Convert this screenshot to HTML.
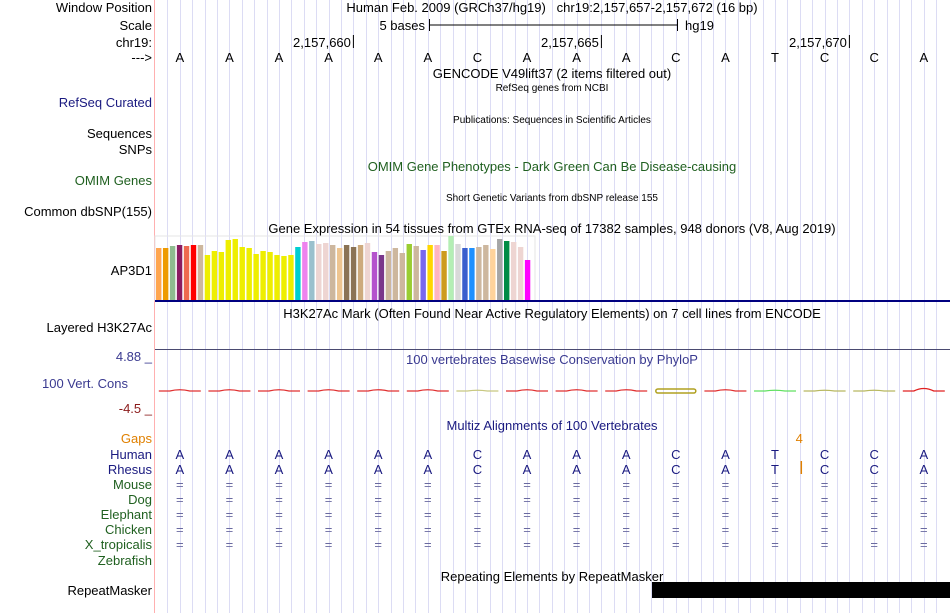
<!DOCTYPE html>
<html><head><meta charset="utf-8"><style>
body{margin:0;background:#fff;}
svg{display:block;font-family:"Liberation Sans",sans-serif;}
</style></head><body>
<svg id="s" width="950" height="613" viewBox="0 0 950 613">
<g id="grid"></g>
<line x1="154.5" y1="0" x2="154.5" y2="613" stroke="#ffb0b0"/>
<g font-size="13" text-anchor="end">
<text x="152" y="12" fill="#000">Window Position</text>
<text x="152" y="30" fill="#000">Scale</text>
<text x="152" y="47" fill="#000">chr19:</text>
<text x="152" y="62" fill="#000">---&gt;</text>
<text x="152" y="107" fill="#1a1a80">RefSeq Curated</text>
<text x="152" y="138" fill="#000">Sequences</text>
<text x="152" y="154" fill="#000">SNPs</text>
<text x="152" y="185" fill="#206020">OMIM Genes</text>
<text x="152" y="216" fill="#000">Common dbSNP(155)</text>
<text x="152" y="275" fill="#000">AP3D1</text>
<text x="152" y="332" fill="#000">Layered H3K27Ac</text>
<text x="152" y="361" fill="#3a3a90">4.88 _</text>
<text x="128" y="388" fill="#3a3a90">100 Vert. Cons</text>
<text x="152" y="413" fill="#8b1a1a">-4.5 _</text>
<text x="152" y="443" fill="#e08000">Gaps</text>
<text x="152" y="459" fill="#1a1a80">Human</text>
<text x="152" y="474" fill="#1a1a80">Rhesus</text>
<text x="152" y="489" fill="#206020">Mouse</text>
<text x="152" y="504" fill="#206020">Dog</text>
<text x="152" y="519" fill="#206020">Elephant</text>
<text x="152" y="534" fill="#206020">Chicken</text>
<text x="152" y="549" fill="#206020">X_tropicalis</text>
<text x="152" y="565" fill="#206020">Zebrafish</text>
<text x="152" y="595" fill="#000">RepeatMasker</text>
</g>
<g font-size="13" text-anchor="middle">
<text x="552" y="12" xml:space="preserve">Human Feb. 2009 (GRCh37/hg19)   chr19:2,157,657-2,157,672 (16 bp)</text>
<text x="552" y="78">GENCODE V49lift37 (2 items filtered out)</text>
<text x="552" y="91" font-size="10">RefSeq genes from NCBI</text>
<text x="552" y="123" font-size="10">Publications: Sequences in Scientific Articles</text>
<text x="552" y="171" fill="#206020">OMIM Gene Phenotypes - Dark Green Can Be Disease-causing</text>
<text x="552" y="201" font-size="10">Short Genetic Variants from dbSNP release 155</text>
<text x="552" y="233">Gene Expression in 54 tissues from GTEx RNA-seq of 17382 samples, 948 donors (V8, Aug 2019)</text>
<text x="552" y="318">H3K27Ac Mark (Often Found Near Active Regulatory Elements) on 7 cell lines from ENCODE</text>
<text x="552" y="364" fill="#3a3a90">100 vertebrates Basewise Conservation by PhyloP</text>
<text x="552" y="430" fill="#1a1a80">Multiz Alignments of 100 Vertebrates</text>
<text x="552" y="581">Repeating Elements by RepeatMasker</text>
</g>
<g>
<text x="425" y="30" font-size="13" text-anchor="end">5 bases</text>
<line x1="429" y1="25" x2="677" y2="25" stroke="#000"/>
<line x1="429.5" y1="19" x2="429.5" y2="31" stroke="#000"/>
<line x1="677.5" y1="19" x2="677.5" y2="31" stroke="#000"/>
<text x="685" y="30" font-size="13">hg19</text>
</g>
<g id="ruler" font-size="13" text-anchor="end"></g>
<g id="seq" font-size="13" text-anchor="middle"></g>
<rect x="155" y="236" width="380" height="65" fill="none" stroke="#e6e6e6"/>
<g id="gtex"></g>
<line x1="155" y1="301" x2="950" y2="301" stroke="#000080" stroke-width="2"/>
<line x1="155" y1="349.5" x2="950" y2="349.5" stroke="#4a4a70"/>
<g id="cons"></g>
<g id="multiz" font-size="13" text-anchor="middle"></g>
<rect x="652" y="582" width="298" height="16" fill="#000"/>
</svg>
<script>
const bases=["A","A","A","A","A","A","C","A","A","A","C","A","T","C","C","A"];
const rulerPos=[2157660,2157665,2157670];
const rulerIdx=[3,8,13];
const gtexValues=[52,52,54,55,54,55,55,45,49,48,60,61,53,52,46,49,48,45,44,45,53,58,59,56,57,55,52,55,53,55,57,48,45,49,52,47,56,54,50,55,55,49,64,56,52,52,53,55,51,61,59,58,53,40];
const gtexColors=["#FFA54F","#EE9A00","#8FBC8F","#8B1C62","#EE6A50","#FF0000","#CDB79E","#EEEE00","#EEEE00","#EEEE00","#EEEE00","#EEEE00","#EEEE00","#EEEE00","#EEEE00","#EEEE00","#EEEE00","#EEEE00","#EEEE00","#EEEE00","#00CED1","#EE82EE","#9AC0CD","#EED5D2","#EED5D2","#CDB79E","#EEC591","#8B7355","#8B7355","#CDAA7D","#EED5D2","#B452CD","#7A378B","#CDB79E","#CDB79E","#CDB79E","#9ACD32","#CDB79E","#7A67EE","#FFD700","#FFB6C1","#CD9B1D","#B4EEB4","#D9D9D9","#3A5FCD","#1E90FF","#CDB79E","#CDB79E","#FFD39B","#A6A6A6","#008B45","#EED5D2","#EED5D2","#FF00FF"];
const consValues=[0.3,0.3,0.3,0.3,0.3,0.3,0.1,0.3,0.3,0.3,-0.5,0.3,0.1,0.1,0.1,0.8];
const consColors=["#e03030","#e03030","#e03030","#e03030","#e03030","#e03030","#c8c880","#e03030","#e03030","#e03030","#b0a020","#e03030","#60e060","#b8b860","#b8b860","#e02020"];
const NS="http://www.w3.org/2000/svg";
const X0=155,BW=49.6;
const bx=i=>X0+BW*(i+0.5);
function mk(tag,attrs,parent,txt){const e=document.createElementNS(NS,tag);for(const k in attrs)e.setAttribute(k,attrs[k]);if(txt!==undefined)e.textContent=txt;parent.appendChild(e);return e;}
const grid=document.getElementById('grid');
for(let k=1;k<64;k++){const x=Math.round(X0+k*BW/4)+0.5;const l=mk('line',{x1:x,y1:0,x2:x,y2:613,stroke:'#dcdcf4'},grid);

}
const ruler=document.getElementById('ruler');
rulerPos.forEach((p,j)=>{const x=X0+BW*rulerIdx[j]+BW*0.99;const t=mk('text',{x:x-2,y:47},ruler,p.toLocaleString('en-US'));


const l=mk('line',{x1:x+0.5,y1:35,x2:x+0.5,y2:48,stroke:'#000'},ruler);

});
const seq=document.getElementById('seq');
bases.forEach((b,i)=>{const t=mk('text',{x:bx(i),y:62},seq,b);

});
const gtex=document.getElementById('gtex');
const gy=v=>300-v;
gtexValues.forEach((v,i)=>{const r=mk('rect',{x:156+i*6.96,y:gy(v),width:5.4,height:300-gy(v),fill:gtexColors[i]},gtex);

});
const cons=document.getElementById('cons');
const cy=v=>391-v*5;
consValues.forEach((v,i)=>{const x=bx(i);let e;
if(v<0){e=mk('rect',{x:x-20,y:389,width:40,height:4,rx:2,fill:'none',stroke:consColors[i],'stroke-width':1.5},cons);}
else{e=mk('path',{d:`M${x-21},391 L${x-10},391 Q${x},${cy(v)-1} ${x+10},391 L${x+21},391`,fill:'none',stroke:consColors[i],'stroke-width':1.3},cons);}

});
const mz=document.getElementById('multiz');
bases.forEach((b,i)=>{const t=mk('text',{x:bx(i),y:459,fill:'#1a1a80'},mz,b);


const t2=mk('text',{x:bx(i),y:474,fill:'#1a1a80'},mz,b);


for(let r=0;r<5;r++){const e=mk('text',{x:bx(i),y:489+15*r,fill:'#6a6aa0'},mz,'=');

}});
const gx=X0+BW*13+1.5;
const g4=mk('text',{x:gx-2,y:443,fill:'#e08000'},mz,'4');


const gl=mk('line',{x1:gx,y1:461,x2:gx,y2:474,stroke:'#e08000','stroke-width':1.5},mz);


</script>
</body></html>
